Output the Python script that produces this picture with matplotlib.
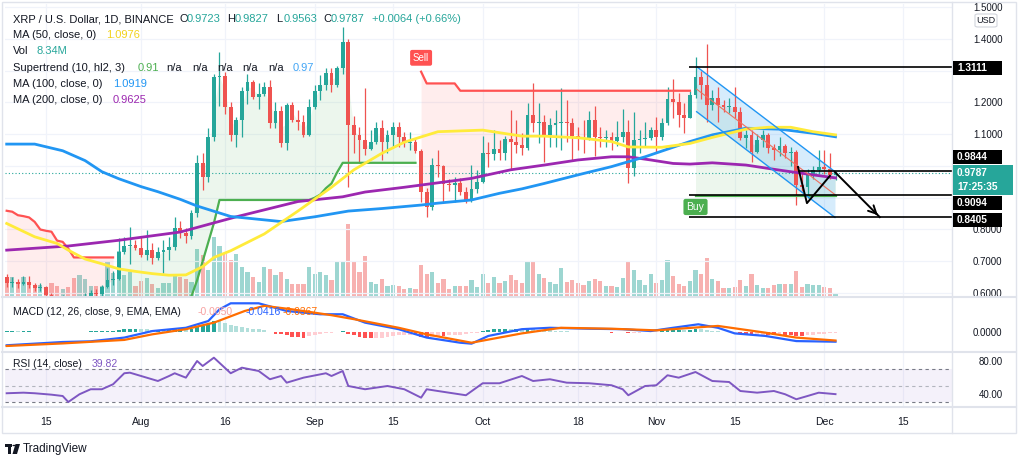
import numpy as np
import matplotlib.pyplot as plt
from matplotlib.patches import Rectangle, FancyBboxPatch
from matplotlib.lines import Line2D

plt.rcParams['font.family'] = ['Liberation Sans', 'DejaVu Sans']

W, H = 1024, 457

# day 0 = 8 Jul 2021, one candle per day up to 3 Dec 2021
first_open = 0.651
closes = [0.632, 0.634, 0.628, 0.636, 0.626, 0.615, 0.620, 0.594, 0.584, 0.578,
          0.584, 0.555, 0.538, 0.585, 0.590, 0.600, 0.598, 0.618, 0.640, 0.645,
          0.730, 0.748, 0.750, 0.743, 0.720, 0.735, 0.710, 0.728, 0.735, 0.746,
          0.805, 0.790, 0.778, 0.851, 1.010, 0.966, 1.092, 1.281, 1.284, 1.185,
          1.098, 1.145, 1.237, 1.266, 1.218, 1.227, 1.250, 1.136, 1.174, 1.071,
          1.192, 1.145, 1.140, 1.098, 1.185, 1.237, 1.255, 1.292, 1.255, 1.308,
          1.392, 1.129, 1.098, 1.082, 1.052, 1.077, 1.119, 1.074, 1.098, 1.124,
          1.092, 1.071, 1.077, 1.048, 0.919, 0.872, 1.003, 1.000, 0.943, 0.940,
          0.945, 0.919, 0.891, 0.926, 0.951, 1.040, 1.037, 1.055, 1.042, 1.084,
          1.077, 1.066, 1.056, 1.161, 1.135, 1.138, 1.098, 1.129, 1.135, 1.140,
          1.135, 1.095, 1.090, 1.084, 1.145, 1.090, 1.087, 1.092, 1.080, 1.092,
          1.108, 0.993, 1.082, 1.085, 1.087, 1.113, 1.090, 1.135, 1.210, 1.202,
          1.160, 1.150, 1.224, 1.281, 1.255, 1.192, 1.213, 1.192, 1.187, 1.187,
          1.171, 1.087, 1.097, 1.045, 1.082, 1.097, 1.056, 1.050, 1.063, 1.040,
          1.045, 0.940, 0.935, 0.971, 0.987, 0.998, 0.990, 0.9723, 0.9787]
highs = [0.660, 0.650, 0.645, 0.652, 0.655, 0.630, 0.630, 0.623, 0.600, 0.592,
         0.595, 0.590, 0.558, 0.590, 0.600, 0.610, 0.612, 0.625, 0.680, 0.668,
         0.772, 0.775, 0.809, 0.767, 0.777, 0.798, 0.756, 0.746, 0.767, 0.777,
         0.838, 0.826, 0.805, 0.862, 1.035, 1.040, 1.120, 1.290, 1.360, 1.295,
         1.200, 1.155, 1.250, 1.290, 1.272, 1.260, 1.266, 1.270, 1.200, 1.190,
         1.197, 1.200, 1.177, 1.160, 1.210, 1.255, 1.287, 1.308, 1.308, 1.315,
         1.439, 1.400, 1.156, 1.124, 1.245, 1.113, 1.140, 1.145, 1.113, 1.140,
         1.140, 1.108, 1.108, 1.087, 1.052, 0.930, 1.024, 1.050, 1.003, 0.960,
         0.966, 0.961, 0.935, 1.003, 0.987, 1.095, 1.077, 1.113, 1.082, 1.095,
         1.177, 1.145, 1.103, 1.198, 1.260, 1.198, 1.160, 1.150, 1.177, 1.245,
         1.208, 1.150, 1.124, 1.145, 1.174, 1.190, 1.124, 1.113, 1.108, 1.141,
         1.180, 1.145, 1.170, 1.113, 1.140, 1.124, 1.155, 1.150, 1.250, 1.273,
         1.230, 1.198, 1.235, 1.344, 1.300, 1.385, 1.239, 1.250, 1.208, 1.213,
         1.250, 1.187, 1.113, 1.113, 1.100, 1.113, 1.105, 1.070, 1.092, 1.070,
         1.060, 1.050, 0.985, 0.990, 1.000, 1.050, 1.050, 1.040, 0.9827]
lows = [0.620, 0.618, 0.615, 0.624, 0.615, 0.605, 0.607, 0.585, 0.575, 0.570,
        0.572, 0.550, 0.510, 0.535, 0.575, 0.585, 0.585, 0.590, 0.615, 0.625,
        0.640, 0.722, 0.692, 0.735, 0.714, 0.705, 0.690, 0.704, 0.662, 0.704,
        0.735, 0.772, 0.757, 0.770, 0.840, 0.924, 0.950, 1.080, 1.190, 1.165,
        1.080, 1.060, 1.090, 1.196, 1.210, 1.180, 1.220, 1.120, 1.120, 1.060,
        1.050, 1.140, 1.114, 1.092, 1.095, 1.180, 1.208, 1.240, 1.234, 1.250,
        1.290, 0.935, 1.040, 1.010, 1.035, 1.050, 1.070, 1.019, 1.040, 1.061,
        1.061, 1.060, 1.050, 1.040, 0.888, 0.840, 0.861, 0.966, 0.882, 0.920,
        0.888, 0.909, 0.885, 0.888, 0.914, 0.945, 0.998, 1.019, 1.019, 1.019,
        0.988, 1.040, 1.035, 1.050, 1.106, 1.072, 1.013, 1.061, 1.061, 1.050,
        1.077, 1.019, 1.050, 1.040, 1.082, 1.030, 1.061, 1.061, 1.050, 1.063,
        1.077, 0.946, 0.967, 1.040, 1.063, 1.082, 1.040, 1.082, 1.130, 1.150,
        1.124, 1.103, 1.150, 1.215, 1.210, 1.140, 1.176, 1.140, 1.170, 1.166,
        1.150, 1.082, 1.056, 1.013, 1.040, 1.060, 1.040, 1.020, 1.030, 1.025,
        1.000, 0.877, 0.920, 0.898, 0.960, 0.975, 0.975, 0.960, 0.9563]
volumes = [38, 40, 26, 40, 28, 24, 24, 16, 28, 22, 16, 20, 38, 44, 36, 22, 22, 22, 72, 48,
           92, 44, 50, 22, 32, 38, 26, 18, 28, 28, 44,
           40, 36, 30, 96, 84, 54, 120, 102, 86, 74, 86, 60, 50, 40, 30, 60, 56, 44, 50, 36,
           26, 26, 26, 60, 46, 50, 44, 34, 70, 70, 146,
           70, 50, 82, 30, 26, 36, 22, 24, 22, 16, 18, 16, 64, 46, 50, 28, 36, 16, 22, 22,
           22, 34, 20, 46, 28, 40, 28, 32, 44, 34,
           28, 70, 70, 46, 38, 30, 26, 58, 30, 34, 28, 24, 32, 36, 32, 22, 22, 20, 38, 72,
           54, 34, 24, 46, 28, 34, 74, 42, 26, 22,
           32, 54, 46, 78, 36, 32, 18, 18, 20, 34, 22, 46, 24, 18, 18, 24, 26, 26, 26, 52,
           20, 26, 24, 24, 20, 18, 8.34]

# moving averages
ma50_days = [0, 5, 9, 11, 14, 17, 20, 23, 26, 29, 32, 35, 37, 40, 46, 52, 58, 62, 67, 71,
             77, 85, 92, 96, 102, 108, 111, 117, 122, 126, 132, 136, 140, 144, 148]
ma50 = [0.819, 0.777, 0.756, 0.735, 0.707, 0.692, 0.676, 0.668, 0.661, 0.656, 0.657, 0.683,
        0.712, 0.733, 0.786, 0.858, 0.933, 0.988, 1.040, 1.075, 1.108, 1.113, 1.094, 1.094,
        1.089, 1.077, 1.060, 1.059, 1.071, 1.090, 1.116, 1.122, 1.122, 1.108, 1.098]
ma100_days = [0, 5, 10, 14, 17, 20, 24, 27, 31, 34, 40, 49, 55, 61, 67, 74, 77, 83, 88, 92,
              96, 102, 108, 114, 122, 126, 132, 138, 144, 148]
ma100 = [1.069, 1.069, 1.048, 1.017, 0.982, 0.960, 0.935, 0.919, 0.895, 0.874, 0.841, 0.825,
         0.840, 0.858, 0.866, 0.877, 0.883, 0.893, 0.914, 0.928, 0.945, 0.972, 0.998, 1.029,
         1.077, 1.098, 1.119, 1.116, 1.103, 1.092]
ma200_days = [0, 11, 20, 31, 41, 52, 60, 64, 71, 74, 83, 90, 96, 102, 108, 111, 115, 119,
              122, 126, 132, 138, 144, 148]
ma200 = [0.735, 0.748, 0.766, 0.792, 0.840, 0.888, 0.903, 0.918, 0.933, 0.940, 0.961, 0.988,
         1.003, 1.019, 1.029, 1.029, 1.019, 1.008, 1.006, 1.010, 1.003, 0.987, 0.972, 0.9625]

# supertrend, one value per day in each trend leg
st_dn1_start = 0
st_dn1 = [0.859, 0.856, 0.845, 0.842, 0.838, 0.824, 0.800, 0.796, 0.793, 0.765,
          0.761, 0.740, 0.712, 0.712, 0.712, 0.712, 0.712, 0.712, 0.712, 0.712]
st_up1_start = 20
st_up1 = [0.52, 0.53, 0.55, 0.56, 0.56, 0.56, 0.57, 0.57, 0.57, 0.58, 0.58, 0.58, 0.58, 0.59,
          0.64, 0.70, 0.76, 0.82,
          0.893, 0.893, 0.893, 0.893, 0.893, 0.893, 0.893, 0.893, 0.893, 0.893, 0.893, 0.893,
          0.893, 0.893, 0.893, 0.893, 0.893,
          0.90, 0.91, 0.93, 0.945, 0.98,
          1.010, 1.010, 1.010, 1.010, 1.010, 1.010, 1.010, 1.010, 1.010, 1.010, 1.010, 1.010,
          1.010, 1.010]
st_dn2_start = 74
st_dn2 = [1.297, 1.260, 1.260, 1.260, 1.260, 1.260, 1.260,
          1.237, 1.237, 1.237, 1.237, 1.237, 1.237, 1.237, 1.237, 1.237, 1.237, 1.237, 1.237,
          1.237, 1.237, 1.237, 1.237, 1.237, 1.237, 1.237, 1.237, 1.237, 1.237, 1.237, 1.237,
          1.237, 1.237, 1.237, 1.237, 1.237, 1.237, 1.237, 1.237, 1.237, 1.237, 1.237, 1.237,
          1.237, 1.237, 1.237, 1.237, 1.237, 1.237]
st_up2_start = 123
st_up2 = [0.906, 0.906, 0.906, 0.906, 0.906, 0.906, 0.906, 0.906, 0.906, 0.906, 0.906, 0.906,
          0.906, 0.906, 0.906, 0.906, 0.906, 0.906, 0.906, 0.906, 0.906, 0.906, 0.906, 0.906,
          0.906, 0.906]

# MACD (12, 26, 9)
macd_days = [0, 10, 15, 21, 26, 32, 36, 38, 40, 45, 50, 56, 60, 64, 70, 75, 81, 83, 86, 92,
             97, 104, 110, 115, 119, 123.5, 127, 130, 135.5, 141, 148]
macd_line = [-0.057, -0.043, -0.040, -0.024, 0.004, 0.018, 0.047, 0.097, 0.123, 0.123, 0.090,
             0.076, 0.076, 0.040, 0.012, -0.024, -0.046, -0.050, -0.017, 0.012, 0.018, 0.014,
             0.012, 0.004, 0.018, 0.033, 0.018, -0.006, -0.017, -0.039, -0.0416]
signal_days = [0, 10, 21, 26, 32, 37, 42.5, 46, 51, 58, 62, 70, 75, 83, 92, 99, 108, 116, 127,
               135.5, 141, 148]
signal_line = [-0.060, -0.049, -0.034, -0.010, 0.012, 0.040, 0.090, 0.112, 0.097, 0.072, 0.055,
               0.018, -0.010, -0.046, -0.006, 0.018, 0.014, 0.007, 0.026, -0.003, -0.024, -0.0367]
macd_hist = [0.004, 0.004, 0.003, 0.003, 0.003, 0.002, 0.002, 0.002, 0.001, 0.001, 0.001, -0.001, -0.002,
             0.000, 0.002, 0.003, 0.004, 0.005, 0.006, 0.006,
             0.010, 0.012, 0.013, 0.013, 0.012, 0.011, 0.010, 0.010, 0.009, 0.009, 0.011,
             0.011, 0.010, 0.014, 0.022, 0.026, 0.035, 0.047, 0.045,
             0.038, 0.030, 0.024, 0.022, 0.018, 0.014, 0.012, 0.009, 0.002,
             -0.008, -0.010, -0.015, -0.020, -0.022, -0.024, -0.018, -0.012, -0.008, -0.005, -0.004, -0.001,
             0.003, -0.008, -0.014, -0.020, -0.024, -0.026, -0.025, -0.024, -0.021, -0.018, -0.015, -0.013,
             -0.012, -0.012,
             -0.020, -0.025, -0.020, -0.016, -0.016, -0.014, -0.012, -0.011, -0.010, -0.006, -0.003,
             0.006, 0.010, 0.012, 0.013, 0.013, 0.012, 0.012, 0.011, 0.012, 0.011, 0.010,
             0.008, 0.007, 0.006, 0.005, 0.004, 0.002, 0.001, 0.000, 0.002, -0.001, -0.002, -0.002,
             -0.003, -0.002, -0.001,
             -0.006, -0.004, -0.003, -0.002, 0.000, 0.001,
             0.003, 0.008, 0.010, 0.010, 0.009, 0.010, 0.012, 0.011, 0.008, 0.006,
             0.004, 0.002, 0.000, -0.002, -0.008, -0.010, -0.014, -0.013, -0.012, -0.012, -0.013,
             -0.012, -0.012, -0.012, -0.016, -0.016, -0.013, -0.011, -0.009, -0.007, -0.006, -0.005]

# RSI (14)
rsi_days = [0, 3, 5, 8, 10, 11, 13, 15, 17, 19, 21, 22, 25, 27, 29, 30, 32, 34, 35, 37, 40,
            42, 45, 47, 49, 50, 53, 57, 58, 60, 61, 64, 68, 71, 74, 75, 77, 82, 85, 88, 92,
            94, 97, 100, 104, 108, 110, 111, 114, 116, 118, 120, 123, 126, 129, 131, 134,
            137, 139, 141, 143, 145, 148]
rsi = [40.9, 41.6, 40.9, 39.2, 37.6, 30.4, 39.7, 45.7, 45.7, 51.7, 64.9, 65.6, 59.6, 55.6,
       61.6, 64.9, 59.6, 79.6, 73.6, 83.6, 64.9, 71.6, 67.6, 57.7, 61.6, 53.6, 59.6, 64.9,
       61.6, 67.6, 49.6, 45.7, 49.6, 45.7, 35.6, 45.7, 43.6, 38.5, 52.9, 52.9, 61.6, 55.6,
       57.7, 53.6, 52.9, 50.5, 45.7, 38.5, 49.6, 50.5, 62.5, 59.6, 66.4, 55.6, 54.4, 43.6,
       41.6, 43.6, 39.7, 33.7, 37.6, 41.6, 39.82]

tick_days = [7, 24, 39, 55, 69, 85, 102, 116, 130, 146, 160]
tick_labels = ['15', 'Aug', '16', 'Sep', '15', 'Oct', '18', 'Nov', '15', 'Dec', '15']
price_ticks = [0.6, 0.7, 0.8, 0.9, 1.0, 1.1, 1.2, 1.3, 1.4, 1.5]
# ticks whose labels sit under a price tag on the axis
price_ticks_covered = [0.9, 1.0, 1.3]

# drawn levels / pattern
levels = [1.3111, 0.9844, 0.9094, 0.8405]
level_start = [121.8, 141.3, 121.8, 121.8]
chan_days = [123.2, 147.9]
chan_top = [1.313, 0.982]
chan_mid = [1.242, 0.910]
chan_bot = [1.171, 0.838]
zig_days = [141.3, 142.9, 147.0]
zig_vals = [0.997, 0.883, 0.969]
arrow_from = (147.9, 0.981)
arrow_to = (155.9, 0.839)

TEAL, RED = '#26a69a', '#ef5350'
TXT = '#131722'
GRID = '#f0f3fa'

days = np.arange(len(closes))
c = np.array(closes)
o = np.r_[first_open, c[:-1]]
up = c >= o
cols = np.where(up, TEAL, RED)
mid = (o + c) / 2

fig = plt.figure(figsize=(W / 100, H / 100), dpi=100)


def rect(x0, y0, x1, y1):
    return [x0 / W, 1 - y1 / H, (x1 - x0) / W, (y1 - y0) / H]


axv = fig.add_axes(rect(5, 4, 952, 297))
ax = fig.add_axes(rect(5, 4, 952, 297), sharex=axv)
ax.patch.set_alpha(0)
axm = fig.add_axes(rect(5, 297, 952, 352), sharex=axv)
axr = fig.add_axes(rect(5, 352, 952, 407), sharex=axv)

for a in (axv, ax, axm, axr):
    for s in a.spines.values():
        s.set_visible(False)
    a.tick_params(length=0, labelsize=7, labelcolor=TXT)
    a.tick_params(axis='x', labelbottom=False)
axv.set_yticks([])
axv.set_xlim(-0.3, 168.8)

# volume
axv.bar(days, volumes, width=0.75, color=cols, alpha=0.45, lw=0)
axv.set_ylim(0, 588)

# grid
for d in tick_days:
    for a in (ax, axm, axr):
        a.axvline(d, color=GRID, lw=0.9, zorder=0)
for p in price_ticks:
    ax.axhline(p, color=GRID, lw=0.9, zorder=0)

# supertrend legs
legs = [(st_dn1_start, st_dn1, '#ff5252'), (st_up1_start, st_up1, '#4caf50'),
        (st_dn2_start, st_dn2, '#ff5252'), (st_up2_start, st_up2, '#4caf50')]
for start, vals, col in legs:
    xs = days[start:start + len(vals)]
    ax.fill_between(xs, vals, mid[start:start + len(vals)], color=col, alpha=0.1, lw=0, zorder=1)
    ax.plot(xs, vals, color=col, lw=1.6, zorder=4)

# channel
ax.fill_between(chan_days, chan_bot, chan_top, color='#2196f3', alpha=0.18, lw=0, zorder=1.5)
ax.plot(chan_days, chan_top, color='#2196f3', lw=1, zorder=4.5)
ax.plot(chan_days, chan_bot, color='#2196f3', lw=1, zorder=4.5)
ax.plot(chan_days, chan_mid, color='#f0705f', lw=0.8, zorder=4.5)

# candles
ax.vlines(days, lows, highs, colors=cols, lw=0.9, zorder=3)
body = np.maximum(np.abs(c - o), 0.002)
ax.bar(days, body, bottom=np.minimum(o, c), width=0.68, color=cols, lw=0, zorder=3.1)

# moving averages
ax.plot(ma200_days, ma200, color='#9c27b0', lw=2, zorder=4)
ax.plot(ma100_days, ma100, color='#2196f3', lw=2, zorder=4)
ax.plot(ma50_days, ma50, color='#ffeb3b', lw=2, zorder=4)

# last price dotted line
ax.axhline(c[-1], color=TEAL, lw=0.8, ls=(0, (1, 2)), zorder=2)

# levels and arrows
for lv, st in zip(levels, level_start):
    ax.hlines(lv, st, 168.8, color='black', lw=1.2, zorder=5)
ax.plot(zig_days, zig_vals, color='black', lw=1.4, zorder=5)
ax.plot([arrow_from[0], arrow_to[0]], [arrow_from[1], arrow_to[1]], color='black', lw=1.4, zorder=5)
ax.annotate('', xy=arrow_to, xytext=(arrow_to[0] - 1, arrow_to[1] + 0.0178),
            arrowprops=dict(arrowstyle='->', color='black', lw=1.4, mutation_scale=14), zorder=5)

# buy / sell tags
ax.annotate('Sell', xy=(st_dn2_start, st_dn2[0]), xytext=(0, 10), textcoords='offset points',
            ha='center', va='center', color='white', fontsize=7, zorder=6,
            bbox=dict(boxstyle='round,pad=0.3,rounding_size=0.2', fc='#ff5252', ec='none'))
ax.annotate('Buy', xy=(st_up2_start, st_up2[0]), xytext=(0, -8), textcoords='offset points',
            ha='center', va='center', color='white', fontsize=7.5, zorder=6,
            bbox=dict(boxstyle='round,pad=0.3,rounding_size=0.2', fc='#4caf50', ec='none'))

ax.set_ylim(0.5874, 1.5102)
ax.yaxis.tick_right()
ax.set_yticks(price_ticks)
ax.set_yticklabels(['' if p in price_ticks_covered else '%.4f' % p for p in price_ticks])
ax.tick_params(axis='y', pad=15)

# MACD pane
hist = np.array(macd_hist)
prev = np.r_[hist[0], hist[:-1]]
hcols = np.where(hist >= 0, np.where(hist >= prev, '#26a69a', '#b2dfdb'),
                 np.where(hist <= prev, '#ff5252', '#ffcdd2'))
axm.bar(days, hist, width=0.7, color=hcols, lw=0)
axm.plot(macd_days, macd_line, color='#2962ff', lw=1.6)
axm.plot(signal_days, signal_line, color='#ff6d00', lw=1.6)
axm.set_ylim(-0.0858, 0.150)
axm.yaxis.tick_right()
axm.set_yticks([0])
axm.set_yticklabels(['0.0000'])
axm.tick_params(axis='y', pad=15)

# RSI pane
axr.axhspan(30, 70, color='#7e57c2', alpha=0.08, lw=0)
axr.axhline(70, color='#787b86', lw=0.8, ls=(0, (3, 3)))
axr.axhline(50, color='#b2b5be', lw=0.8, ls=(0, (3, 3)))
axr.axhline(30, color='#787b86', lw=0.8, ls=(0, (3, 3)))
axr.plot(rsi_days, rsi, color='#7e57c2', lw=1.4)
axr.set_ylim(24.4, 90.4)
axr.yaxis.tick_right()
axr.set_yticks([40, 80])
axr.set_yticklabels(['40.00', '80.00'])
axr.tick_params(axis='y', pad=19)
axr.set_xticks(tick_days)
axr.set_xticklabels(tick_labels)
axr.tick_params(axis='x', labelbottom=True, pad=7, labelsize=7.5)

# frame and pane separators
SEP = '#e0e3eb'
fig.add_artist(Rectangle((2 / W, 1 - 433 / H), 1014 / W, 431 / H, transform=fig.transFigure,
                         fc='none', ec=SEP, lw=1))
for y in (297, 352, 407):
    fig.add_artist(Line2D([2 / W, 1016 / W], [1 - y / H, 1 - y / H], color=SEP, lw=1.5))
fig.add_artist(Line2D([952 / W, 952 / W], [1 - 433 / H, 1 - 2 / H], color=SEP, lw=1))


def ftext(x, y, s, color=TXT, size=8, **kw):
    fig.text(x / W, 1 - y / H, s, color=color, fontsize=size, va='center', ha='left', **kw)


def tag(y0, y1, x1, lines, fc):
    fig.add_artist(Rectangle((953 / W, 1 - y1 / H), (x1 - 953) / W, (y1 - y0) / H,
                             transform=fig.transFigure, fc=fc, ec='none', zorder=5))
    n = len(lines)
    for i, s in enumerate(lines):
        yy = y0 + (y1 - y0) * (i + 0.5) / n
        fig.text(957 / W, 1 - yy / H, s, color='white', fontsize=7.3, fontweight='bold',
                 va='center', ha='left', zorder=6)


tag(61, 75, 1002, ['1.3111'], 'black')
tag(150, 164, 1002, ['0.9844'], 'black')
tag(165, 195, 1013, ['0.9787', '17:25:35'], TEAL)
tag(196, 210, 1002, ['0.9094'], 'black')
tag(213, 227, 1002, ['0.8405'], 'black')

fig.add_artist(FancyBboxPatch((975 / W, 1 - 27 / H), 22 / W, 13 / H, transform=fig.transFigure,
                              boxstyle='round,pad=0,rounding_size=0.003', fc='white', ec='#d1d4dc',
                              lw=0.8, zorder=5))
fig.text(986 / W, 1 - 20.5 / H, 'USD', fontsize=6.5, color=TXT, ha='center', va='center', zorder=6)

# legend / header lines
ftext(13, 19, 'XRP / U.S. Dollar, 1D, BINANCE')
for x, lab, val in [(179, 'O', '0.9723'), (227.5, 'H', '0.9827'), (276.5, 'L', '0.9563'),
                    (323, 'C', '0.9787')]:
    ftext(x, 19, lab)
    ftext(x + 7.5, 19, val, color=TEAL)
ftext(371.5, 19, '+0.0064 (+0.66%)', color=TEAL)
ftext(13, 35, 'MA (50, close, 0)')
ftext(106.5, 35, '1.0976', color='#f2d21b')
ftext(13, 51.5, 'Vol')
ftext(36.5, 51.5, '8.34M', color=TEAL)
ftext(13, 68, 'Supertrend (10, hl2, 3)')
ftext(138, 68, '0.91', color='#4caf50')
for x in (166.5, 192, 217.5, 242.5, 268):
    ftext(x, 68, 'n/a')
ftext(293, 68, '0.97', color='#42a5f5')
ftext(13, 84, 'MA (100, close, 0)')
ftext(113, 84, '1.0919', color='#2196f3')
ftext(13, 100, 'MA (200, close, 0)')
ftext(113, 100, '0.9625', color='#9c27b0')

ftext(13, 312, 'MACD (12, 26, close, 9, EMA, EMA)', size=7.5)
ftext(198, 312, '-0.0050', color='#f7a1a1', size=7.5)
ftext(246, 312, '-0.0416', color='#2962ff', size=7.5)
ftext(283, 312, '-0.0367', color='#ff6d00', size=7.5)
ftext(13, 364, 'RSI (14, close)', size=7.5)
ftext(92, 364, '39.82', color='#7e57c2', size=7.5)

# TradingView mark
fig.add_artist(Rectangle((5 / W, 1 - 447 / H), 7 / W, 3 / H, transform=fig.transFigure, fc=TXT, ec='none'))
fig.add_artist(Rectangle((8 / W, 1 - 454 / H), 3 / W, 9 / H, transform=fig.transFigure, fc=TXT, ec='none'))
fig.add_artist(plt.Circle((14 / W, 1 - 445.5 / H), 1.6 / W, transform=fig.transFigure, fc=TXT, ec='none'))
fig.add_artist(plt.Polygon([(15.5 / W, 1 - 444 / H), (20 / W, 1 - 444 / H), (17 / W, 1 - 454 / H),
                            (12.5 / W, 1 - 454 / H)], closed=True, transform=fig.transFigure,
                           fc=TXT, ec='none'))
ftext(23, 449, 'TradingView', size=8.5)

fig.savefig('out.png', dpi=100)
